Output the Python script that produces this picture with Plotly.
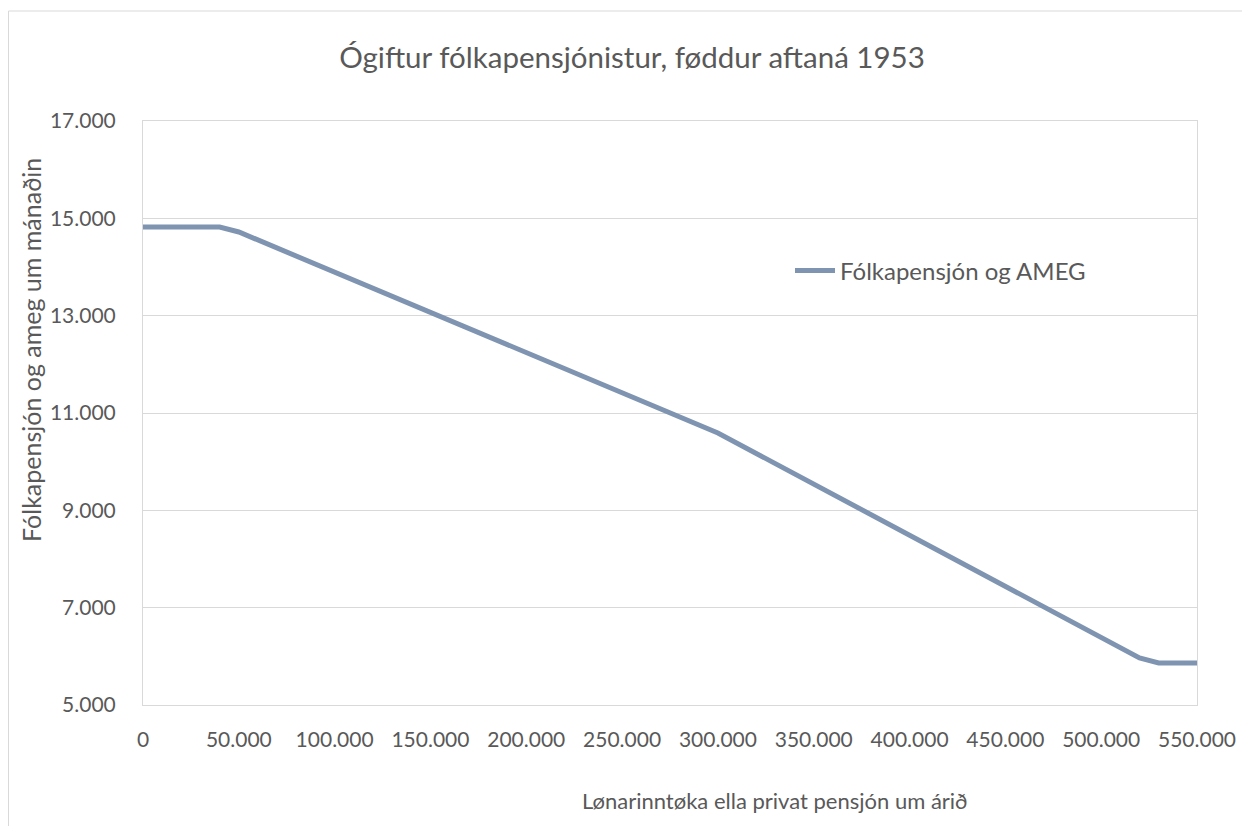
import plotly.graph_objects as go

income = [0, 40000, 50000, 290000, 300000, 520000, 530000, 550000]
pension = [14820, 14820, 14720, 10750, 10590, 5967, 5864, 5864]

x_ticks = [0, 50000, 100000, 150000, 200000, 250000, 300000, 350000, 400000, 450000, 500000, 550000]
x_labels = ["0", "50.000", "100.000", "150.000", "200.000", "250.000", "300.000", "350.000", "400.000", "450.000", "500.000", "550.000"]
y_ticks = [5000, 7000, 9000, 11000, 13000, 15000, 17000]
y_labels = ["5.000", "7.000", "9.000", "11.000", "13.000", "15.000", "17.000"]

# page body has an 8px margin; work in screen pixels
OFF = 8
W, H = 1242, 818
SL, SR, ST, SB = 143, 1197, 121, 705          # plot area in screen pixels
L, T = SL - OFF, ST - OFF
R = W - (SR - OFF)
B = H - (SB - OFF)
pw, ph = SR - SL, SB - ST

def px(x):
    return (x - SL) / pw

def py(y):
    return (SB - y) / ph

FONT = "Lato"
GREY = "#595959"

fig = go.Figure()
fig.add_trace(go.Scatter(
    x=income, y=pension, mode="lines", name="Fólkapensjón og AMEG",
    line=dict(color="#7F94B0", width=5),
    showlegend=True,
))

fig.update_layout(
    width=W, height=H,
    margin=dict(l=L, r=R, t=T, b=B),
    paper_bgcolor="white", plot_bgcolor="white",
    font=dict(family=FONT, color=GREY, size=21),
    title=dict(text="Ógiftur fólkapensjónistur, føddur aftaná 1953",
               x=(632 - OFF) / W, xanchor="center", y=1 - (58 - OFF) / H, yanchor="middle",
               font=dict(family=FONT, size=29.5, color=GREY)),
    showlegend=True,
    legend=dict(x=px(790), xanchor="left", y=py(271), yanchor="middle",
                bgcolor="rgba(0,0,0,0)", font=dict(size=24, color=GREY),
                itemwidth=40),
    xaxis=dict(range=[0, 550000], tickvals=x_ticks, ticktext=x_labels,
               showgrid=False, zeroline=False, showline=True, mirror=True,
               linecolor="#D9D9D9", linewidth=1, ticks="",
               ticklabelstandoff=16,
               tickfont=dict(size=21, color=GREY)),
    yaxis=dict(range=[5000, 17000], tickvals=y_ticks, ticktext=y_labels,
               showgrid=True, gridcolor="#D9D9D9", gridwidth=1,
               zeroline=False, showline=True, mirror=True,
               linecolor="#D9D9D9", linewidth=1, ticks="",
               ticklabelstandoff=22,
               tickfont=dict(size=21, color=GREY)),
    annotations=[
        dict(text="Lønarinntøka ella privat pensjón um árið", xref="paper", yref="paper",
             x=px(775), y=py(800), xanchor="center", yanchor="middle", showarrow=False,
             font=dict(size=22, color=GREY, family=FONT)),
        dict(text="Fólkapensjón og ameg um mánaðin", xref="paper", yref="paper",
             x=px(31), y=py(350), xanchor="center", yanchor="middle", showarrow=False,
             textangle=-90, font=dict(size=25, color=GREY, family=FONT)),
    ],
    shapes=[
        dict(type="rect", xref="paper", yref="paper",
             x0=px(OFF + 0.5), x1=px(1247), y0=py(840), y1=py(11),
             line=dict(color="#D9D9D9", width=1), fillcolor="rgba(0,0,0,0)", layer="below"),
    ],
)

fig.write_html("out.html")
